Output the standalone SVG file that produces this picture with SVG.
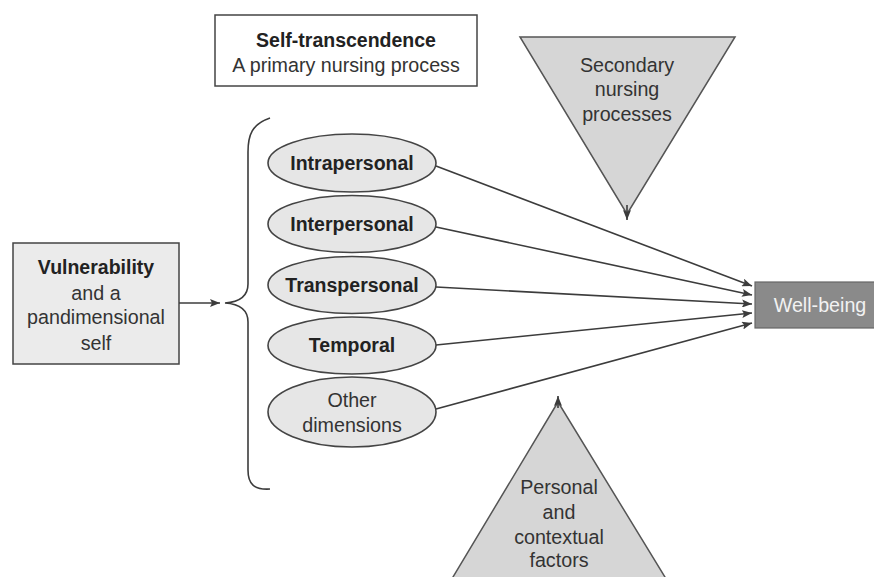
<svg xmlns="http://www.w3.org/2000/svg" width="874" height="577" viewBox="0 0 874 577">
<defs>
<marker id="ah" viewBox="0 0 10 8" refX="10" refY="4" markerWidth="10" markerHeight="8" markerUnits="userSpaceOnUse" orient="auto">
<path d="M0,0 L10,4 L0,8 L2,4 Z" fill="#3c3c3c"/>
</marker>
</defs>
<style>
text{font-family:"Liberation Sans",Arial,sans-serif;font-size:19.7px;fill:#333;text-anchor:middle}
.b{font-weight:bold;fill:#222;font-size:19.5px}
.box{stroke:#444;stroke-width:1.5}
.ell{fill:#e6e6e6;stroke:#444;stroke-width:1.6}
.tri{fill:#d6d6d6;stroke:#555;stroke-width:1.5}
.ln{fill:none;stroke:#3c3c3c;stroke-width:1.6}
</style>
<rect width="874" height="577" fill="#fff"/>
<g id="title">
<rect class="box" x="215" y="15" width="262" height="71" fill="#fff"/>
<text class="b" x="346" y="47">Self-transcendence</text>
<text x="346" y="72">A primary nursing process</text>
</g>
<g id="secondary">
<polygon class="tri" points="520,37 735,37 627,214"/>
<text x="627" y="72">Secondary</text>
<text x="627" y="96">nursing</text>
<text x="627" y="121">processes</text>
</g>
<g id="personal">
<polygon class="tri" points="558,402 450,582 668,582"/>
<text x="559" y="494">Personal</text>
<text x="559" y="519">and</text>
<text x="559" y="544">contextual</text>
<text x="559" y="567">factors</text>
</g>
<g id="vulnerability">
<rect class="box" x="13" y="243" width="166" height="121" fill="#ebebeb"/>
<text class="b" x="96" y="274">Vulnerability</text>
<text x="96" y="300">and a</text>
<text x="96" y="324">pandimensional</text>
<text x="96" y="350">self</text>
</g>
<g id="brace">
<path class="ln" d="M270,118 C252,124 248,135 248,152 L248,284 C248,296 240,302 225,303 C240,304 248,310 248,322 L248,470 C248,484 254,490 270,489"/>
</g>
<g id="intrapersonal">
<ellipse class="ell" cx="352" cy="163" rx="84" ry="29"/>
<text class="b" x="352" y="170">Intrapersonal</text>
</g>
<g id="interpersonal">
<ellipse class="ell" cx="352" cy="224" rx="84" ry="28.5"/>
<text class="b" x="352" y="231">Interpersonal</text>
</g>
<g id="transpersonal">
<ellipse class="ell" cx="352" cy="285" rx="84" ry="28.5"/>
<text class="b" x="352" y="292">Transpersonal</text>
</g>
<g id="temporal">
<ellipse class="ell" cx="352" cy="345.5" rx="84" ry="28.5"/>
<text class="b" x="352" y="352">Temporal</text>
</g>
<g id="other">
<ellipse class="ell" cx="352" cy="412" rx="84" ry="35"/>
<text x="352" y="407">Other</text>
<text x="352" y="432">dimensions</text>
</g>
<g id="wellbeing">
<rect x="755" y="282" width="125" height="46" fill="#8a8a8a" stroke="#666" stroke-width="1.2"/>
<text x="820" y="312" style="fill:#f2f2f2">Well-being</text>
</g>
<g id="connectors">
<line class="ln" x1="179" y1="303" x2="220" y2="303" marker-end="url(#ah)"/>
<line class="ln" x1="436" y1="166" x2="752" y2="286" marker-end="url(#ah)"/>
<line class="ln" x1="436" y1="227" x2="752" y2="295" marker-end="url(#ah)"/>
<line class="ln" x1="436" y1="287" x2="752" y2="304" marker-end="url(#ah)"/>
<line class="ln" x1="436" y1="345" x2="752" y2="313" marker-end="url(#ah)"/>
<line class="ln" x1="436" y1="409" x2="752" y2="323" marker-end="url(#ah)"/>
<line class="ln" x1="627" y1="205" x2="627" y2="220" marker-end="url(#ah)"/>
<line class="ln" x1="558" y1="408" x2="558" y2="396" marker-end="url(#ah)"/>
</g>
</svg>
